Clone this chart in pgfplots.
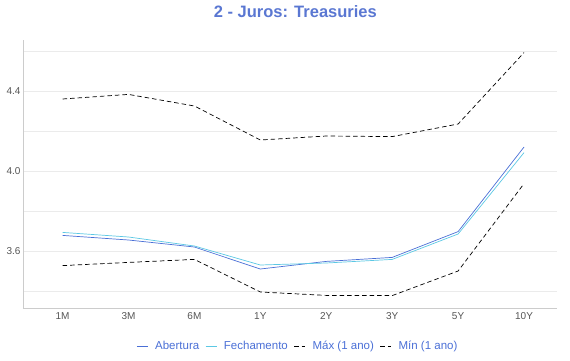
\documentclass[border=0pt]{standalone}
\usepackage{pgfplots}
\pgfplotsset{compat=1.18}
\usepackage{fontspec}
\setmainfont{Liberation Sans}
\definecolor{abert}{HTML}{4A6FD6}
\definecolor{fech}{HTML}{5CC8E4}
\definecolor{ttl}{HTML}{5A77D2}
\definecolor{gridc}{HTML}{EBEBEB}
\definecolor{axc}{HTML}{CCCCCC}
\definecolor{tickc}{HTML}{555555}
\begin{document}
\begin{tikzpicture}
\useasboundingbox (-23pt,-52pt) rectangle (547pt,308pt);
\begin{axis}[
  at={(0,0)}, anchor=south west,
  scale only axis, width=534pt, height=268pt,
  xmin=-0.6, xmax=7.5, ymin=3.315, ymax=4.655,
  xtick={0,...,7}, xticklabels={1M,3M,6M,1Y,2Y,3Y,5Y,10Y},
  ytick={3.6,4.0,4.4}, minor ytick={3.4,3.8,4.2,4.6},
  yticklabel style={xshift=1pt, /pgf/number format/fixed, /pgf/number format/fixed zerofill, /pgf/number format/precision=1},
  /pgf/number format/assume math mode=true,
  ymajorgrids, yminorgrids,
  major grid style={gridc, line width=0.6pt},
  minor grid style={gridc, line width=0.6pt},
  major tick length=0pt, minor tick length=0pt,
  axis x line*=bottom, axis y line*=left,
  axis line style={axc, line width=0.8pt, -},
  tick label style={font=\fontsize{10}{11}\selectfont, text=tickc},
  xticklabel style={yshift=-1pt},
  title={2 - Juros: Treasuries},
  title style={font=\bfseries\fontsize{16.5}{18}\selectfont, text=ttl, at={(0.51,1)}, anchor=south, yshift=13pt},
  legend style={at={(0.513,-0.108)}, anchor=north, draw=none, fill=none,
    font=\fontsize{11.5}{13}\selectfont, text=abert, legend columns=4,
    nodes={inner xsep=0pt},
    /tikz/every odd column/.append style={column sep=7pt},
    /tikz/every even column/.append style={column sep=6pt}},
  legend cell align=left,
  legend image code/.code={\draw[#1] (0pt,0pt) -- (11pt,0pt);},
]
\addplot[abert, line width=0.7pt] coordinates {(0,3.678) (1,3.655) (2,3.62) (3,3.51) (4,3.548) (5,3.568) (6,3.697) (7,4.12)};
\addlegendentry{Abertura}
\addplot[fech, line width=0.7pt] coordinates {(0,3.693) (1,3.67) (2,3.625) (3,3.53) (4,3.54) (5,3.558) (6,3.685) (7,4.092)};
\addlegendentry{Fechamento}
\addplot[black, line width=0.7pt, dash pattern=on 4.5pt off 3pt] coordinates {(0,4.36) (1,4.383) (2,4.325) (3,4.155) (4,4.175) (5,4.172) (6,4.235) (7,4.592)};
\addlegendentry{Máx (1 ano)}
\addplot[black, line width=0.7pt, dash pattern=on 4.5pt off 3pt] coordinates {(0,3.527) (1,3.543) (2,3.558) (3,3.395) (4,3.378) (5,3.377) (6,3.50) (7,3.937)};
\addlegendentry{Mín (1 ano)}
\end{axis}
\end{tikzpicture}
\end{document}
